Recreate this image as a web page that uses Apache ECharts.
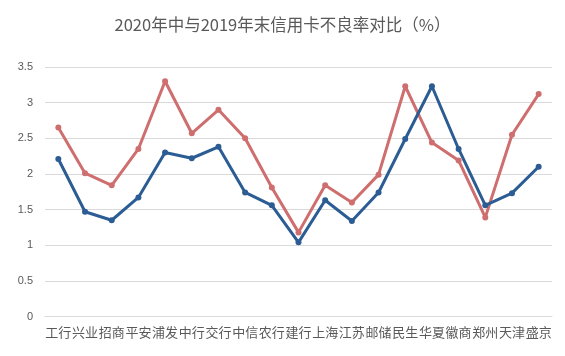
<!DOCTYPE html>
<html>
<head>
<meta charset="utf-8">
<script src="https://cdn.jsdelivr.net/npm/echarts@6/dist/echarts.min.js"></script>
<style>
html,body{margin:0;padding:0;background:#fff;}
#chart{width:565px;height:356px;}
</style>
</head>
<body>
<div id="chart"></div>
<script>
const categories = ['工行','兴业','招商','平安','浦发','中行','交行','中信','农行','建行','上海','江苏','邮储','民生','华夏','徽商','郑州','天津','盛京'];
const mid2020 = [2.21,1.47,1.35,1.67,2.30,2.22,2.38,1.74,1.56,1.04,1.63,1.34,1.74,2.49,3.23,2.35,1.56,1.73,2.10];
const end2019 = [2.65,2.01,1.84,2.35,3.30,2.57,2.90,2.50,1.81,1.18,1.84,1.60,1.99,3.23,2.44,2.19,1.39,2.55,3.12];
const yTicks = [0,0.5,1,1.5,2,2.5,3,3.5];
const titleText = '2020年中与2019年末信用卡不良率对比（%）';

const font = '"Noto Sans CJK SC", "Microsoft YaHei", sans-serif';
const chart = echarts.init(document.getElementById('chart'));
chart.setOption({
  animation: false,
  backgroundColor: '#fff',
  title: {
    text: titleText,
    left: 'center',
    top: 11,
    textStyle: { fontFamily: font, fontSize: 16.5, fontWeight: 'normal', color: '#595959' }
  },
  grid: { left: 45, right: 13, top: 67, bottom: 39.5, containLabel: false },
  xAxis: {
    type: 'category',
    data: categories,
    boundaryGap: true,
    axisLine: { show: true, lineStyle: { color: '#d9d9d9' } },
    axisTick: { show: false },
    axisLabel: { interval: 0, fontFamily: font, fontSize: 13, color: '#595959', margin: 9 }
  },
  yAxis: {
    type: 'value',
    min: yTicks[0],
    max: yTicks[yTicks.length - 1],
    interval: 0.5,
    axisLine: { show: false },
    axisTick: { show: false },
    axisLabel: { fontFamily: 'Liberation Sans, Arial, sans-serif', fontSize: 11, color: '#595959', margin: 12 },
    splitLine: { lineStyle: { color: '#d9d9d9', width: 1 } }
  },
  series: [
    {
      name: '2020年中',
      type: 'line',
      data: mid2020,
      symbol: 'circle',
      symbolSize: 6,
      lineStyle: { color: '#2B5C93', width: 3 },
      itemStyle: { color: '#2B5C93' },
      z: 3
    },
    {
      name: '2019年末',
      type: 'line',
      data: end2019,
      symbol: 'circle',
      symbolSize: 6,
      lineStyle: { color: '#CF6E6E', width: 3 },
      itemStyle: { color: '#CF6E6E' },
      z: 2
    }
  ]
});
</script>
</body>
</html>
